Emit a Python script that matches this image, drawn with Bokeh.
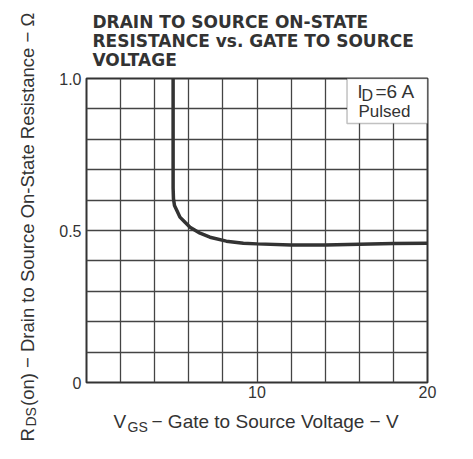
from math import pi
from bokeh.plotting import figure
from bokeh.layouts import row, column
from bokeh.models import Range1d, FixedTicker, Label, BoxAnnotation
from bokeh.core.properties import value
from bokeh.embed import file_html
from bokeh.resources import INLINE

# ---- data ----
vgs = [5.08, 5.08, 5.1, 5.16, 5.3, 5.48, 5.78, 6.07, 6.66, 7.24, 8.2, 9.2, 10, 12, 14, 16, 18, 20]
rds = [1.0, 0.64, 0.605, 0.582, 0.566, 0.544, 0.527, 0.511, 0.491, 0.478, 0.465, 0.458, 0.456,
       0.452, 0.452, 0.455, 0.457, 0.458]

x_ticks = [10, 20]
x_tick_labels = ["10", "20"]
y_ticks = [0, 0.5, 1.0]
y_tick_labels = ["0", "0.5", "1.0"]
x_grid = [0, 2, 4, 6, 8, 10, 12, 14, 16, 18, 20]
y_grid = [0, 0.1, 0.2, 0.3, 0.4, 0.5, 0.6, 0.7, 0.8, 0.9, 1.0]

title_lines = ["DRAIN TO SOURCE ON-STATE", "RESISTANCE vs. GATE TO SOURCE", "VOLTAGE"]
FONT = "Liberation Sans"
INK = "#333333"

W, H = 457, 443          # whole page
LW = 45                  # left strip (y axis title)
TH = 70                  # title strip
XH = 37                  # x-axis-title strip
MW, MH = W - LW, H - TH - XH
DY = 6                   # renderer places the alphabetic baseline this much lower


def text_fig(w, h):
    f = figure(width=w, height=h, x_range=Range1d(0, w), y_range=Range1d(0, h),
               output_backend="svg", toolbar_location=None, min_border=0,
               x_axis_location=None, y_axis_location=None)
    f.frame_align = False
    f.grid.visible = False
    f.outline_line_color = None
    f.background_fill_color = "white"
    f.border_fill_color = "white"
    return f


def txt(f, xs, ys, texts, size, angle=0.0, font=FONT, style="normal"):
    f.text(x=xs, y=ys, text=texts, text_font=value(font), text_font_size=value(size),
           text_font_style=style, text_color=INK, text_align="left",
           text_baseline="alphabetic", angle=angle)


# ---- main chart ----
p = figure(width=MW, height=MH, x_range=Range1d(0, 20), y_range=Range1d(0, 1),
           output_backend="svg", toolbar_location=None,
           min_border_left=41, min_border_right=30, min_border_top=8, min_border_bottom=24)
p.frame_align = False
p.background_fill_color = "white"
p.border_fill_color = "white"
p.outline_line_color = INK
p.outline_line_width = 2

for ax, ticks, labels in ((p.xaxis, x_ticks, x_tick_labels), (p.yaxis, y_ticks, y_tick_labels)):
    ax.ticker = FixedTicker(ticks=ticks)
    ax.major_label_overrides = dict(zip(ticks, labels))
    ax.axis_line_color = None
    ax.major_tick_line_color = None
    ax.minor_tick_line_color = None
    ax.major_tick_out = 0
    ax.major_tick_in = 0
    ax.minor_tick_out = 0
    ax.major_label_text_font = FONT
    ax.major_label_text_font_size = "16px"
    ax.major_label_text_color = INK
p.xaxis.major_label_standoff = 3
p.yaxis.major_label_standoff = 5

p.xgrid.ticker = FixedTicker(ticks=x_grid)
p.ygrid.ticker = FixedTicker(ticks=y_grid)
p.grid.grid_line_color = "#444444"
p.grid.grid_line_width = 1.3

p.line(vgs, rds, line_width=3.5, line_color=INK)

# condition box in the top-right corner
p.add_layout(BoxAnnotation(left=15.28, right=20, bottom=0.852, top=1.0,
                           fill_color="white", fill_alpha=1.0,
                           line_color=INK, line_width=1.5, level="annotation"))

FL, FB = 86.0, 382.0     # frame left / bottom in page pixels


def lab(text, px, py, size):
    p.add_layout(Label(x=px - FL, y=FB - (py - DY), x_units="screen", y_units="screen", text=text,
                       text_font=FONT, text_font_size=size, text_color=INK,
                       text_align="left", text_baseline="alphabetic"))


lab("I", 357, 97, "18px")
lab("D", 361, 101, "16px")
lab("=6 A", 375, 97, "19px")
lab("Pulsed", 358, 117, "17px")

# ---- title strip ----
tf = text_fig(MW, TH)
txt(tf, [92 - LW] * 3, [TH - (b - DY) for b in (27.3, 46.5, 65.0)], title_lines, "17px",
    font="DejaVu Sans", style="bold")

# ---- x axis title strip ----
xf = text_fig(MW, XH)
XT = H - XH              # page y of the strip's top
txt(xf, [113 - LW], [XH - (427 - DY - XT)], ["V"], "19px")
txt(xf, [127 - LW], [XH - (432 - DY - XT)], ["GS"], "14px")
txt(xf, [151 - LW], [XH - (427 - DY - XT)], [" \u2212 Gate to Source Voltage \u2212 V"], "19px")

# ---- y axis title strip (rotated) ----
lf = text_fig(LW, H)
txt(lf, [32.5 - DY], [H - 441], ["R"], "18.5px", angle=pi / 2)
txt(lf, [36.5 - DY], [H - 426], ["DS"], "14px", angle=pi / 2)
txt(lf, [32.5 - DY], [H - 405.5], ["(on) \u2212 Drain to Source On-State Resistance \u2212 \u03a9"],
    "18.5px", angle=pi / 2)

layout = row(lf, column(tf, p, xf))
open("out.html", "w").write(file_html(layout, INLINE))
